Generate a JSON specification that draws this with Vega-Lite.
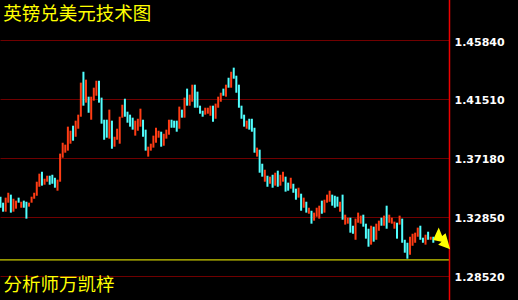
{
"$schema": "https://vega.github.io/schema/vega-lite/v6.json",
"width": 449,
"height": 300,
"autosize": {"type": "none"},
"padding": {"left": 0, "top": 0, "right": 69, "bottom": 0},
"background": "#000000",
"view": {"stroke": "transparent", "strokeWidth": 0},
"config": {
"view": {"stroke": "transparent", "strokeWidth": 0},
"axisY": {"grid": true, "gridColor": "#700000", "gridOpacity": 1, "gridWidth": 1, "ticks": false,
"domain": false,
"labelColor": "#ffffff", "labelFont": "DejaVu Sans", "labelFontWeight": "bold", "labelFontSize": 11,
"labelPadding": 5, "labelBaseline": "middle", "labelOffset": 2, "title": null}
},
"datasets": {
"candles": [
{"i":0,"high":1.3434,"low":1.3353,"dir":"down"},
{"i":1,"high":1.3390,"low":1.3324,"dir":"down"},
{"i":2,"high":1.3427,"low":1.3324,"dir":"up"},
{"i":3,"high":1.3463,"low":1.3390,"dir":"up"},
{"i":4,"high":1.3449,"low":1.3317,"dir":"down"},
{"i":5,"high":1.3419,"low":1.3324,"dir":"up"},
{"i":6,"high":1.3405,"low":1.3346,"dir":"up"},
{"i":7,"high":1.3427,"low":1.3390,"dir":"down"},
{"i":8,"high":1.3397,"low":1.3353,"dir":"up"},
{"i":9,"high":1.3405,"low":1.3353,"dir":"down"},
{"i":10,"high":1.3397,"low":1.3273,"dir":"down"},
{"i":11,"high":1.3390,"low":1.3361,"dir":"up"},
{"i":12,"high":1.3434,"low":1.3390,"dir":"up"},
{"i":13,"high":1.3463,"low":1.3419,"dir":"up"},
{"i":14,"high":1.3544,"low":1.3441,"dir":"up"},
{"i":15,"high":1.3603,"low":1.3507,"dir":"up"},
{"i":16,"high":1.3617,"low":1.3515,"dir":"down"},
{"i":17,"high":1.3566,"low":1.3522,"dir":"up"},
{"i":18,"high":1.3588,"low":1.3544,"dir":"up"},
{"i":19,"high":1.3588,"low":1.3522,"dir":"down"},
{"i":20,"high":1.3595,"low":1.3529,"dir":"down"},
{"i":21,"high":1.3573,"low":1.3500,"dir":"down"},
{"i":22,"high":1.3559,"low":1.3478,"dir":"up"},
{"i":23,"high":1.3750,"low":1.3544,"dir":"up"},
{"i":24,"high":1.3830,"low":1.3720,"dir":"up"},
{"i":25,"high":1.3816,"low":1.3757,"dir":"up"},
{"i":26,"high":1.3948,"low":1.3772,"dir":"up"},
{"i":27,"high":1.3918,"low":1.3823,"dir":"up"},
{"i":28,"high":1.3955,"low":1.3845,"dir":"down"},
{"i":29,"high":1.3992,"low":1.3874,"dir":"up"},
{"i":30,"high":1.4036,"low":1.3933,"dir":"up"},
{"i":31,"high":1.4271,"low":1.4021,"dir":"up"},
{"i":32,"high":1.4351,"low":1.4102,"dir":"down"},
{"i":33,"high":1.4293,"low":1.4124,"dir":"up"},
{"i":34,"high":1.4168,"low":1.4050,"dir":"down"},
{"i":35,"high":1.4168,"low":1.3999,"dir":"up"},
{"i":36,"high":1.4234,"low":1.4139,"dir":"up"},
{"i":37,"high":1.4285,"low":1.4175,"dir":"up"},
{"i":38,"high":1.4285,"low":1.4124,"dir":"down"},
{"i":39,"high":1.4161,"low":1.3970,"dir":"down"},
{"i":40,"high":1.3999,"low":1.3852,"dir":"down"},
{"i":41,"high":1.3999,"low":1.3867,"dir":"down"},
{"i":42,"high":1.4073,"low":1.3860,"dir":"up"},
{"i":43,"high":1.3992,"low":1.3786,"dir":"down"},
{"i":44,"high":1.3874,"low":1.3801,"dir":"up"},
{"i":45,"high":1.3933,"low":1.3852,"dir":"up"},
{"i":46,"high":1.4021,"low":1.3823,"dir":"up"},
{"i":47,"high":1.4109,"low":1.4014,"dir":"up"},
{"i":48,"high":1.4153,"low":1.4021,"dir":"down"},
{"i":49,"high":1.4058,"low":1.3977,"dir":"down"},
{"i":50,"high":1.4036,"low":1.3948,"dir":"down"},
{"i":51,"high":1.4014,"low":1.3926,"dir":"down"},
{"i":52,"high":1.3992,"low":1.3882,"dir":"up"},
{"i":53,"high":1.4006,"low":1.3918,"dir":"up"},
{"i":54,"high":1.4080,"low":1.3948,"dir":"up"},
{"i":55,"high":1.3999,"low":1.3874,"dir":"down"},
{"i":56,"high":1.3926,"low":1.3772,"dir":"down"},
{"i":57,"high":1.3801,"low":1.3728,"dir":"up"},
{"i":58,"high":1.3823,"low":1.3772,"dir":"up"},
{"i":59,"high":1.3882,"low":1.3794,"dir":"up"},
{"i":60,"high":1.3940,"low":1.3830,"dir":"up"},
{"i":61,"high":1.3918,"low":1.3867,"dir":"up"},
{"i":62,"high":1.3911,"low":1.3801,"dir":"down"},
{"i":63,"high":1.3896,"low":1.3808,"dir":"up"},
{"i":64,"high":1.3926,"low":1.3860,"dir":"up"},
{"i":65,"high":1.3999,"low":1.3889,"dir":"up"},
{"i":66,"high":1.3999,"low":1.3940,"dir":"down"},
{"i":67,"high":1.3992,"low":1.3940,"dir":"down"},
{"i":68,"high":1.3992,"low":1.3911,"dir":"down"},
{"i":69,"high":1.4095,"low":1.3933,"dir":"up"},
{"i":70,"high":1.4073,"low":1.4014,"dir":"down"},
{"i":71,"high":1.4161,"low":1.4014,"dir":"up"},
{"i":72,"high":1.4227,"low":1.4102,"dir":"down"},
{"i":73,"high":1.4183,"low":1.4102,"dir":"up"},
{"i":74,"high":1.4256,"low":1.4131,"dir":"up"},
{"i":75,"high":1.4256,"low":1.4087,"dir":"down"},
{"i":76,"high":1.4205,"low":1.4087,"dir":"down"},
{"i":77,"high":1.4102,"low":1.4043,"dir":"down"},
{"i":78,"high":1.4065,"low":1.4021,"dir":"down"},
{"i":79,"high":1.4087,"low":1.4036,"dir":"up"},
{"i":80,"high":1.4087,"low":1.4043,"dir":"up"},
{"i":81,"high":1.4102,"low":1.4028,"dir":"up"},
{"i":82,"high":1.4102,"low":1.3984,"dir":"down"},
{"i":83,"high":1.4117,"low":1.4006,"dir":"up"},
{"i":84,"high":1.4168,"low":1.4087,"dir":"up"},
{"i":85,"high":1.4197,"low":1.4131,"dir":"up"},
{"i":86,"high":1.4227,"low":1.4175,"dir":"down"},
{"i":87,"high":1.4256,"low":1.4168,"dir":"up"},
{"i":88,"high":1.4307,"low":1.4234,"dir":"down"},
{"i":89,"high":1.4351,"low":1.4234,"dir":"up"},
{"i":90,"high":1.4381,"low":1.4300,"dir":"down"},
{"i":91,"high":1.4322,"low":1.4197,"dir":"down"},
{"i":92,"high":1.4256,"low":1.4087,"dir":"down"},
{"i":93,"high":1.4102,"low":1.4006,"dir":"down"},
{"i":94,"high":1.4036,"low":1.3948,"dir":"down"},
{"i":95,"high":1.3992,"low":1.3933,"dir":"up"},
{"i":96,"high":1.4006,"low":1.3926,"dir":"down"},
{"i":97,"high":1.4006,"low":1.3911,"dir":"down"},
{"i":98,"high":1.3940,"low":1.3757,"dir":"down"},
{"i":99,"high":1.3794,"low":1.3728,"dir":"up"},
{"i":100,"high":1.3779,"low":1.3610,"dir":"down"},
{"i":101,"high":1.3676,"low":1.3581,"dir":"down"},
{"i":102,"high":1.3632,"low":1.3544,"dir":"up"},
{"i":103,"high":1.3588,"low":1.3507,"dir":"down"},
{"i":104,"high":1.3581,"low":1.3529,"dir":"up"},
{"i":105,"high":1.3595,"low":1.3500,"dir":"down"},
{"i":106,"high":1.3610,"low":1.3515,"dir":"up"},
{"i":107,"high":1.3625,"low":1.3507,"dir":"down"},
{"i":108,"high":1.3595,"low":1.3515,"dir":"up"},
{"i":109,"high":1.3617,"low":1.3544,"dir":"up"},
{"i":110,"high":1.3581,"low":1.3471,"dir":"down"},
{"i":111,"high":1.3537,"low":1.3478,"dir":"down"},
{"i":112,"high":1.3573,"low":1.3493,"dir":"up"},
{"i":113,"high":1.3529,"low":1.3463,"dir":"down"},
{"i":114,"high":1.3493,"low":1.3412,"dir":"down"},
{"i":115,"high":1.3500,"low":1.3427,"dir":"up"},
{"i":116,"high":1.3456,"low":1.3331,"dir":"down"},
{"i":117,"high":1.3427,"low":1.3353,"dir":"up"},
{"i":118,"high":1.3397,"low":1.3317,"dir":"down"},
{"i":119,"high":1.3353,"low":1.3309,"dir":"up"},
{"i":120,"high":1.3331,"low":1.3236,"dir":"down"},
{"i":121,"high":1.3317,"low":1.3258,"dir":"up"},
{"i":122,"high":1.3353,"low":1.3287,"dir":"up"},
{"i":123,"high":1.3368,"low":1.3273,"dir":"up"},
{"i":124,"high":1.3405,"low":1.3309,"dir":"down"},
{"i":125,"high":1.3412,"low":1.3317,"dir":"up"},
{"i":126,"high":1.3449,"low":1.3390,"dir":"up"},
{"i":127,"high":1.3478,"low":1.3397,"dir":"up"},
{"i":128,"high":1.3449,"low":1.3368,"dir":"down"},
{"i":129,"high":1.3441,"low":1.3353,"dir":"down"},
{"i":130,"high":1.3434,"low":1.3361,"dir":"down"},
{"i":131,"high":1.3397,"low":1.3324,"dir":"up"},
{"i":132,"high":1.3449,"low":1.3265,"dir":"down"},
{"i":133,"high":1.3302,"low":1.3229,"dir":"up"},
{"i":134,"high":1.3280,"low":1.3236,"dir":"up"},
{"i":135,"high":1.3280,"low":1.3170,"dir":"down"},
{"i":136,"high":1.3221,"low":1.3162,"dir":"down"},
{"i":137,"high":1.3273,"low":1.3118,"dir":"up"},
{"i":138,"high":1.3317,"low":1.3243,"dir":"up"},
{"i":139,"high":1.3295,"low":1.3236,"dir":"up"},
{"i":140,"high":1.3302,"low":1.3214,"dir":"down"},
{"i":141,"high":1.3236,"low":1.3126,"dir":"down"},
{"i":142,"high":1.3199,"low":1.3067,"dir":"down"},
{"i":143,"high":1.3221,"low":1.3082,"dir":"up"},
{"i":144,"high":1.3214,"low":1.3104,"dir":"down"},
{"i":145,"high":1.3236,"low":1.3118,"dir":"up"},
{"i":146,"high":1.3258,"low":1.3184,"dir":"up"},
{"i":147,"high":1.3280,"low":1.3221,"dir":"down"},
{"i":148,"high":1.3295,"low":1.3221,"dir":"up"},
{"i":149,"high":1.3368,"low":1.3199,"dir":"down"},
{"i":150,"high":1.3302,"low":1.3243,"dir":"up"},
{"i":151,"high":1.3280,"low":1.3236,"dir":"up"},
{"i":152,"high":1.3251,"low":1.3199,"dir":"up"},
{"i":153,"high":1.3243,"low":1.3126,"dir":"down"},
{"i":154,"high":1.3295,"low":1.3229,"dir":"up"},
{"i":155,"high":1.3273,"low":1.3096,"dir":"down"},
{"i":156,"high":1.3118,"low":1.3023,"dir":"down"},
{"i":157,"high":1.3096,"low":1.2979,"dir":"down"},
{"i":158,"high":1.3140,"low":1.3008,"dir":"up"},
{"i":159,"high":1.3162,"low":1.3074,"dir":"up"},
{"i":160,"high":1.3170,"low":1.3096,"dir":"up"},
{"i":161,"high":1.3207,"low":1.3140,"dir":"up"},
{"i":162,"high":1.3221,"low":1.3118,"dir":"down"},
{"i":163,"high":1.3133,"low":1.3096,"dir":"down"},
{"i":164,"high":1.3155,"low":1.3082,"dir":"up"},
{"i":165,"high":1.3177,"low":1.3118,"dir":"down"},
{"i":166,"high":1.3140,"low":1.3118,"dir":"up"},
{"i":167,"high":1.3140,"low":1.3096,"dir":"down"}
]
},
"layer": [
{
"data": {"name": "candles"},
"mark": {"type": "rule", "strokeWidth": 2},
"encoding": {
"x": {"field": "i", "type": "quantitative", "scale": {"domain": [-0.19, 173.06], "nice": false, "zero": false}, "axis": null},
"y": {"field": "high", "type": "quantitative", "scale": {"domain": [1.267586, 1.487756], "nice": false, "zero": false},
"axis": {"orient": "right", "values": [1.2852, 1.3285, 1.3718, 1.4151, 1.4584], "format": ".5f"}},
"y2": {"field": "low"},
"color": {"field": "dir", "type": "nominal", "scale": {"domain": ["up", "down"], "range": ["#ff3c14", "#50ffff"]}, "legend": null}
}
},
{
"data": {"values": [{}]},
"mark": {"type": "rule", "color": "#ffff00", "strokeWidth": 1},
"encoding": {"y": {"datum": 1.2970}}
},
{
"data": {"values": [{}]},
"mark": {"type": "rule", "color": "#ee0000", "strokeWidth": 1.5},
"encoding": {"x": {"datum": 173.25}}
},
{
"data": {"values": [{}]},
"mark": {"type": "point", "filled": true, "color": "#ffff00", "opacity": 1, "size": 520,
"shape": "M -0.75 0.15 L -0.25 -0.95 L 0.05 -0.2 L 0.35 -0.45 L 0.75 0.95 L -0.3 0.55 L 0 0.3 Z"},
"encoding": {"x": {"datum": 170.2}, "y": {"datum": 1.3128}}
},
{
"data": {"values": [{}]},
"mark": {"type": "text", "align": "left", "baseline": "middle", "color": "#ffff00", "font": "Noto Sans CJK SC", "fontSize": 18.5},
"encoding": {"x": {"datum": 1.1}, "y": {"datum": 1.4775}, "text": {"value": "英镑兑美元技术图"}}
},
{
"data": {"values": [{}]},
"mark": {"type": "text", "align": "left", "baseline": "middle", "color": "#ffff00", "font": "Noto Sans CJK SC", "fontSize": 18.5},
"encoding": {"x": {"datum": 1.2}, "y": {"datum": 1.2788}, "text": {"value": "分析师万凯梓"}}
}
]
}
